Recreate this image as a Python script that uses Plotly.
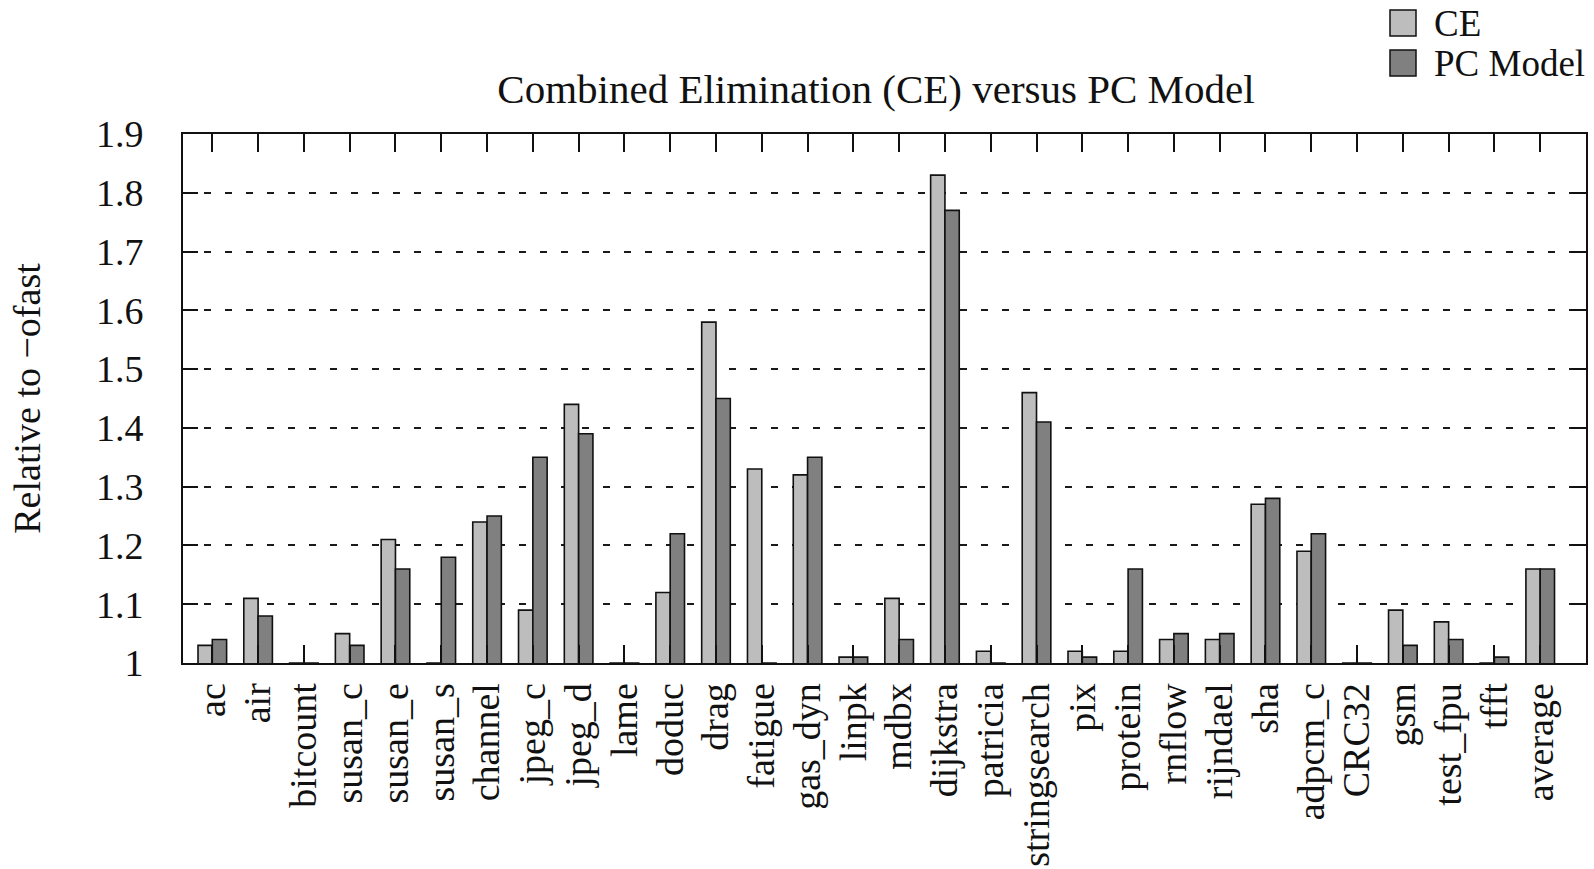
import plotly.graph_objects as go

# Benchmarks and speed-up relative to -ofast
benchmarks = ["ac", "air", "bitcount", "susan_c", "susan_e", "susan_s", "channel",
              "jpeg_c", "jpeg_d", "lame", "doduc", "drag", "fatigue", "gas_dyn",
              "linpk", "mdbx", "dijkstra", "patricia", "stringsearch", "pix",
              "protein", "rnflow", "rijndael", "sha", "adpcm_c", "CRC32", "gsm",
              "test_fpu", "tfft", "average"]
ce_values = [1.03, 1.11, 1.00, 1.05, 1.21, 1.00, 1.24, 1.09, 1.44, 1.00,
             1.12, 1.58, 1.33, 1.32, 1.01, 1.11, 1.83, 1.02, 1.46, 1.02,
             1.02, 1.04, 1.04, 1.27, 1.19, 1.00, 1.09, 1.07, 1.00, 1.16]
pc_values = [1.04, 1.08, 1.00, 1.03, 1.16, 1.18, 1.25, 1.35, 1.39, 1.00,
             1.22, 1.45, 1.00, 1.35, 1.01, 1.04, 1.77, 1.00, 1.41, 1.01,
             1.16, 1.05, 1.05, 1.28, 1.22, 1.00, 1.03, 1.04, 1.01, 1.16]
y_tickvals = [1.0, 1.1, 1.2, 1.3, 1.4, 1.5, 1.6, 1.7, 1.8, 1.9]
y_ticktext = ["1", "1.1", "1.2", "1.3", "1.4", "1.5", "1.6", "1.7", "1.8", "1.9"]
series_names = ["CE", "PC Model"]
series_colors = ["#bdbdbd", "#808080"]

FONT = "Liberation Serif, Times New Roman, serif"
W, H = 1594, 869
ML, MR, MT, MB = 183, 8, 134, 206

fig = go.Figure()
for name, vals, color in zip(series_names, [ce_values, pc_values], series_colors):
    fig.add_trace(go.Bar(
        x=benchmarks, y=vals, name=name,
        marker=dict(color=color, line=dict(color="#111111", width=1.6)),
        showlegend=False,
    ))

axis_common = dict(
    showline=True, linecolor="#111111", linewidth=2, automargin=False,
    mirror="ticks", ticks="inside", tickcolor="#111111", tickwidth=1.6,
    tickfont=dict(family=FONT, size=38, color="#111111"),
)

fig.update_xaxes(
    type="category", range=[-0.64, 30.0], ticklen=18, tickangle=-90,
    tickmode="array", tickvals=benchmarks, ticktext=benchmarks,
    showgrid=False, ticklabelstandoff=3, **axis_common,
)
fig.update_yaxes(
    range=[1.0, 1.9], tickvals=y_tickvals, ticktext=y_ticktext, ticklen=15,
    showgrid=True, gridcolor="#1a1a1a", gridwidth=1.8, griddash="7px,14px",
    ticklabelstandoff=30, zeroline=False,
    title=dict(text="Relative to −ofast", font=dict(family=FONT, size=38, color="#111111"),
               standoff=44),
    **axis_common,
)

# Legend keys drawn beside the plot area
pw, ph = W - ML - MR, H - MT - MB
def px_to_paper_x(px):
    return (px - ML) / pw
def px_to_paper_y(py):
    return (H - MB - py) / ph

key_rows = [(10, 36, 23), (50, 76, 63)]
for name, color, (top, bottom, mid) in zip(series_names, series_colors, key_rows):
    fig.add_shape(type="rect", xref="paper", yref="paper",
                  x0=px_to_paper_x(1390), x1=px_to_paper_x(1416),
                  y0=px_to_paper_y(bottom), y1=px_to_paper_y(top),
                  fillcolor=color, line=dict(color="#111111", width=1.5))
    fig.add_annotation(xref="paper", yref="paper", x=px_to_paper_x(1432), y=px_to_paper_y(mid),
                       text=name, showarrow=False, xanchor="left", yanchor="middle",
                       font=dict(family=FONT, size=37, color="#111111"))

fig.update_layout(
    width=W, height=H,
    margin=dict(l=ML, r=MR, t=MT, b=MB),
    paper_bgcolor="white", plot_bgcolor="white",
    barmode="group", bargap=0.375, bargroupgap=0,
    title=dict(text="Combined Elimination (CE) versus PC Model",
               font=dict(family=FONT, size=41, color="#111111"),
               x=876 / W, xanchor="center", xref="container",
               y=1 - 89 / H, yanchor="middle", yref="container"),
)

fig.write_html("out.html")
